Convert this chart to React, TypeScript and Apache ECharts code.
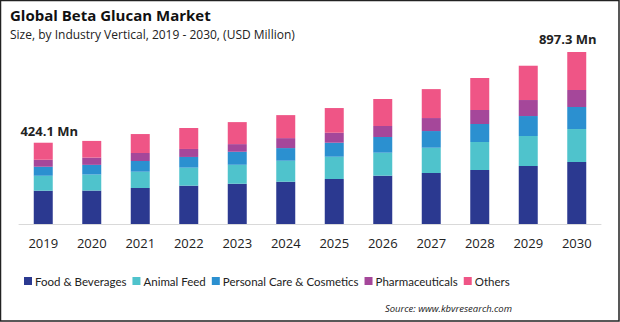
import React, { useEffect, useRef } from "react";
import * as echarts from "echarts";

const years = ["2019", "2020", "2021", "2022", "2023", "2024", "2025", "2026", "2027", "2028", "2029", "2030"];
const foodBeverages = [173.7, 174.5, 187.8, 200, 210, 220.6, 234.7, 252, 266, 281.7, 302.5, 323.5];
const animalFeed = [78, 83.5, 85, 94, 99, 109.5, 116.3, 120, 132, 146, 156.5, 172];
const personalCare = [47, 50.5, 55.8, 55.8, 67.8, 66, 73, 82, 87, 94, 104.3, 114.8];
const pharmaceuticals = [36.5, 38, 41.7, 41.7, 40, 52, 52, 57.4, 67.8, 73, 83.5, 88.7];
const others = [88.9, 87, 99, 109.5, 114.8, 120, 129, 140.8, 151, 167, 179, 198.3];
const totalLabels: Record<string, string> = { "2019": "424.1 Mn", "2030": "897.3 Mn" };

const seriesNames = ["Food & Beverages", "Animal Feed", "Personal Care & Cosmetics", "Pharmaceuticals", "Others"];
const seriesColors = ["#2B3990", "#4FC3CC", "#2B90D0", "#A5479A", "#EF5586"];

const FONT = "'Open Sans', sans-serif";
const LEGEND_FONT = "Lato, 'Open Sans', sans-serif";

export default function App() {
  const ref = useRef<HTMLDivElement>(null);
  useEffect(() => {
    if (!ref.current) return;
    const chart = echarts.init(ref.current, undefined, { renderer: "svg" });
    const dataSets = [foodBeverages, animalFeed, personalCare, pharmaceuticals, others];
    const series: any[] = dataSets.map((d, i) => ({
      name: seriesNames[i],
      type: "bar",
      stack: "total",
      barWidth: 19,
      itemStyle: { color: seriesColors[i] },
      data: d.map((v, j) => {
        const item: any = { value: v };
        if (i === 4 && totalLabels[years[j]]) {
          item.label = {
            show: true,
            position: "top",
            formatter: totalLabels[years[j]],
            fontFamily: FONT,
            fontWeight: "bold",
            fontSize: 13,
            color: "#222",
            offset: j === 0 ? [6, 0] : [-9, -2],
          };
        }
        return item;
      }),
    }));
    chart.setOption({
      animation: false,
      backgroundColor: "#fff",
      grid: { left: 19, right: 19, top: 40, bottom: 98 },
      xAxis: {
        type: "category",
        data: years,
        axisLine: { lineStyle: { color: "#d9d9d9" } },
        axisTick: { show: false },
        axisLabel: { fontFamily: FONT, fontSize: 13, color: "#222", margin: 12 },
      },
      yAxis: {
        type: "value",
        min: 0,
        max: 960,
        show: false,
        splitLine: { show: false },
      },
      legend: {
        left: 19,
        top: 270,
        icon: "rect",
        itemWidth: 8,
        itemHeight: 8,
        itemGap: 6,
        textStyle: { fontFamily: LEGEND_FONT, fontSize: 11.5, color: "#222", padding: [0, 0, 0, -2] },
        data: seriesNames,
      },
      graphic: [
        {
          type: "rect",
          shape: { x: 0.5, y: 0.5, width: 618.5, height: 320.5 },
          style: { fill: "none", stroke: "#222", lineWidth: 1.5 },
          silent: true,
        },
        {
          type: "text",
          left: 10,
          top: 7,
          style: { text: "Global Beta Glucan Market", fontFamily: FONT, fontWeight: "bold", fontSize: 15, fill: "#111" },
        },
        {
          type: "text",
          left: 10,
          top: 28,
          style: { text: "Size, by Industry Vertical, 2019 - 2030, (USD Million)", fontFamily: FONT, fontSize: 12, fill: "#222" },
        },
        {
          type: "text",
          right: 108,
          top: 303,
          style: { text: "Source: www.kbvresearch.com", fontFamily: FONT, fontStyle: "italic", fontSize: 9.5, fill: "#222" },
        },
      ],
      series,
    });
    return () => chart.dispose();
  }, []);
  return <div ref={ref} style={{ position: "fixed", left: 0, top: 0, width: 620, height: 322 }} />;
}
